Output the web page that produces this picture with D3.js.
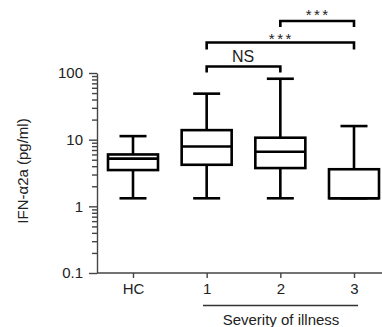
<!DOCTYPE html>
<html>
<head>
<meta charset="utf-8">
<script src="https://cdn.jsdelivr.net/npm/d3@7"></script>
<style>
  body { margin: 0; background: #fff; }
  text { font-family: "Liberation Sans", Arial, sans-serif; fill: #222; }
</style>
</head>
<body>
<div id="chart"></div>
<script>
// groups on the x axis
var categories = ["HC", "1", "2", "3"];
// box plot values (pg/ml)
var whiskerLow = [1.32, 1.32, 1.32, 1.32];
var q1 = [3.5, 4.2, 3.75, 1.32];
var median = [5.2, 7.9, 6.6, 1.32];
var q3 = [6.0, 13.9, 10.7, 3.6];
var whiskerHigh = [11.3, 49, 82, 16];
var yTicks = [0.1, 1, 10, 100];
var yTickLabels = ["0.1", "1", "10", "100"];
// significance comparisons
var compFrom = ["1", "1", "2"];
var compTo = ["2", "3", "3"];
var compLabel = ["NS", "***", "***"];

var width = 382, height = 327;
var margin = {top: 73, left: 97, bottom: 54};

var svg = d3.select("#chart").append("svg")
    .attr("width", width).attr("height", height);

var y = d3.scaleLog().domain([0.1, 100]).range([height - margin.bottom, margin.top]);
var x = d3.scalePoint().domain(categories).range([133, 354]);

var boxW = 50, capW = 27;

// y axis with minor ticks
var minor = [];
for (var d = 0.1; d < 100; d *= 10) {
  for (var k = 2; k <= 9; k++) minor.push(d * k);
}
var yAxisG = svg.append("g").attr("transform", "translate(" + margin.left + ",0)");
yAxisG.append("g")
  .call(d3.axisLeft(y).tickValues(minor).tickSize(5).tickFormat(""))
  .call(g => g.select(".domain").remove());
yAxisG.append("g")
  .call(d3.axisLeft(y).tickValues(yTicks).tickSize(8).tickPadding(6)
    .tickFormat((v, i) => yTickLabels[i]).tickSizeOuter(0));
yAxisG.selectAll("line, path").attr("stroke", "#444").attr("stroke-width", 1.4);
yAxisG.selectAll("text").style("font-size", "15px").attr("fill", "#222")
  .style("font-family", "Liberation Sans, Arial, sans-serif");

// x axis
var xAxisG = svg.append("g").attr("transform", "translate(0," + y(0.1) + ")");
xAxisG.append("line")
  .attr("x1", margin.left).attr("x2", width)
  .attr("stroke", "#444").attr("stroke-width", 1.4);
xAxisG.call(g => g.append("g")
  .call(d3.axisBottom(x).tickSize(5).tickPadding(5))
  .call(a => a.select(".domain").remove()));
xAxisG.selectAll("line").attr("stroke", "#444").attr("stroke-width", 1.4);
xAxisG.selectAll("text").style("font-size", "15px").attr("fill", "#222")
  .style("font-family", "Liberation Sans, Arial, sans-serif");

// axis titles
svg.append("text")
  .attr("transform", "translate(28," + 171 + ") rotate(-90)")
  .attr("text-anchor", "middle")
  .style("font-size", "15px")
  .text("IFN-\u03b12a (pg/ml)");

svg.append("line")
  .attr("x1", 203).attr("x2", 358)
  .attr("y1", 305.5).attr("y2", 305.5)
  .attr("stroke", "#333").attr("stroke-width", 1.4);
svg.append("text")
  .attr("x", 281).attr("y", 325)
  .attr("text-anchor", "middle")
  .style("font-size", "15px")
  .text("Severity of illness");

// boxes
var boxes = svg.append("g")
  .attr("stroke", "#000").attr("stroke-width", 2.6).attr("fill", "none");

categories.forEach(function(c, i) {
  var cx = x(c);
  var g = boxes.append("g");
  // whiskers
  g.append("line").attr("x1", cx).attr("x2", cx).attr("y1", y(whiskerHigh[i])).attr("y2", y(q3[i]));
  g.append("line").attr("x1", cx).attr("x2", cx).attr("y1", y(q1[i])).attr("y2", y(whiskerLow[i]));
  g.append("line").attr("x1", cx - capW / 2).attr("x2", cx + capW / 2)
    .attr("y1", y(whiskerHigh[i])).attr("y2", y(whiskerHigh[i]));
  g.append("line").attr("x1", cx - capW / 2).attr("x2", cx + capW / 2)
    .attr("y1", y(whiskerLow[i])).attr("y2", y(whiskerLow[i]));
  g.append("rect")
    .attr("x", cx - boxW / 2).attr("width", boxW)
    .attr("y", y(q3[i])).attr("height", y(q1[i]) - y(q3[i]))
    .attr("fill", "#fff");
  g.append("line").attr("x1", cx - boxW / 2).attr("x2", cx + boxW / 2)
    .attr("y1", y(median[i])).attr("y2", y(median[i]));
});

// significance brackets
var levels = [66.5, 42.5, 21];
var drop = [6, 7, 6];
var labelY = [62, 43.5, 19.5];
var brackets = svg.append("g");
compLabel.forEach(function(lab, i) {
  var x1 = x(compFrom[i]), x2 = x(compTo[i]);
  brackets.append("path")
    .attr("d", "M" + x1 + "," + (levels[i] + drop[i]) + "V" + levels[i] + "H" + x2 + "V" + (levels[i] + drop[i]))
    .attr("fill", "none").attr("stroke", "#000").attr("stroke-width", 2.6);
  var t = brackets.append("text")
    .attr("x", lab === "NS" ? 243 : (x1 + x2) / 2 + 1)
    .attr("y", labelY[i])
    .attr("text-anchor", "middle")
    .text(lab);
  if (lab === "NS") {
    t.style("font-size", "16px");
  } else {
    t.style("font-size", "15px").style("letter-spacing", "2.5px");
  }
});
</script>
</body>
</html>
